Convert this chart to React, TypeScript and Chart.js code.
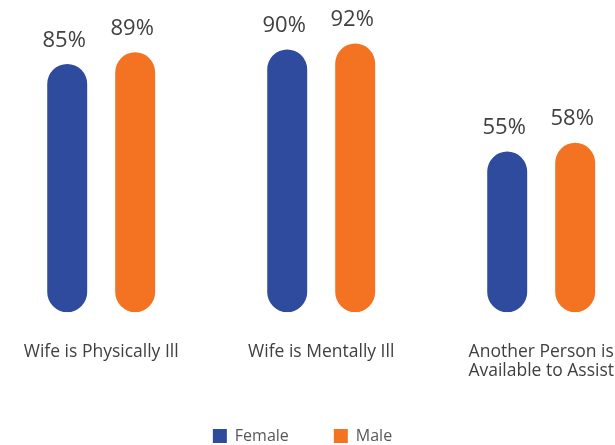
import { useEffect, useRef } from "react";
import { Chart, registerables } from "chart.js";

Chart.register(...registerables);

const categories: string[][] = [
  ["Wife is Physically Ill"],
  ["Wife is Mentally Ill"],
  ["Another Person is", "Available to Assist"],
];
const femaleValues = [85, 90, 55];
const maleValues = [89, 92, 58];
const seriesNames = ["Female", "Male"];
const seriesColors = ["#2F4B9E", "#F47322"];

const valueLabels = {
  id: "valueLabels",
  afterDatasetsDraw(chart: any) {
    const ctx = chart.ctx;
    ctx.save();
    ctx.font = '22px "Open Sans"';
    ctx.fillStyle = "#404040";
    ctx.textAlign = "center";
    ctx.textBaseline = "alphabetic";
    chart.data.datasets.forEach((ds: any, di: number) => {
      const meta = chart.getDatasetMeta(di);
      meta.data.forEach((el: any, i: number) => {
        const v = ds.data[i].y;
        ctx.fillText(v + "%", el.x - 3, el.y - 17.5);
      });
    });
    ctx.restore();
  },
};

export default function App() {
  const ref = useRef<HTMLCanvasElement | null>(null);
  useEffect(() => {
    if (!ref.current) return;
    const toPoints = (vals: number[]) => vals.map((v, i) => ({ x: i, y: v }));
    const chart = new Chart(ref.current, {
      type: "bar",
      data: {
        datasets: [
          {
            label: seriesNames[0],
            data: toPoints(femaleValues),
            backgroundColor: seriesColors[0],
            borderWidth: 0,
            borderRadius: 20,
            borderSkipped: false,
            categoryPercentage: 0.618,
            barPercentage: 0.588,
          },
          {
            label: seriesNames[1],
            data: toPoints(maleValues),
            backgroundColor: seriesColors[1],
            borderWidth: 0,
            borderRadius: 20,
            borderSkipped: false,
            categoryPercentage: 0.618,
            barPercentage: 0.588,
          },
        ] as any,
      },
      plugins: [valueLabels],
      options: {
        animation: false,
        responsive: false,
        layout: { padding: { top: 20.2, bottom: -9, left: 0, right: 10 } },
        plugins: {
          legend: {
            position: "bottom",
            labels: {
              boxWidth: 14,
              boxHeight: 14,
              padding: 45,
              color: "#595959",
              font: { family: "Open Sans", size: 16 },
            },
          },
          tooltip: { enabled: false },
        },
        scales: {
          x: {
            type: "linear",
            offset: false,
            min: -0.46,
            max: 2.29,
            afterBuildTicks: (s: any) => {
              s.ticks = categories.map((_, i) => ({ value: i }));
            },
            afterFit: (s: any) => {
              s.height = 70.8;
              s.paddingLeft = 0;
              s.paddingRight = 0;
            },
            ticks: {
              autoSkip: false,
              maxRotation: 0,
              padding: 30,
              color: "#404040",
              font: { family: "Open Sans", size: 17.5, lineHeight: 1.08 },
              callback: (v: any) => categories[v as number] ?? "",
            },
            grid: { display: false, drawTicks: false },
            border: { display: false },
          },
          y: {
            display: false,
            min: 0,
            max: 100,
          },
        },
      } as any,
    });
    return () => chart.destroy();
  }, []);
  return (
    <div style={{ position: "absolute", left: 0, top: 0, width: 615, height: 445 }}>
      <canvas ref={ref} width={615} height={445} style={{ display: "block" }} />
    </div>
  );
}
